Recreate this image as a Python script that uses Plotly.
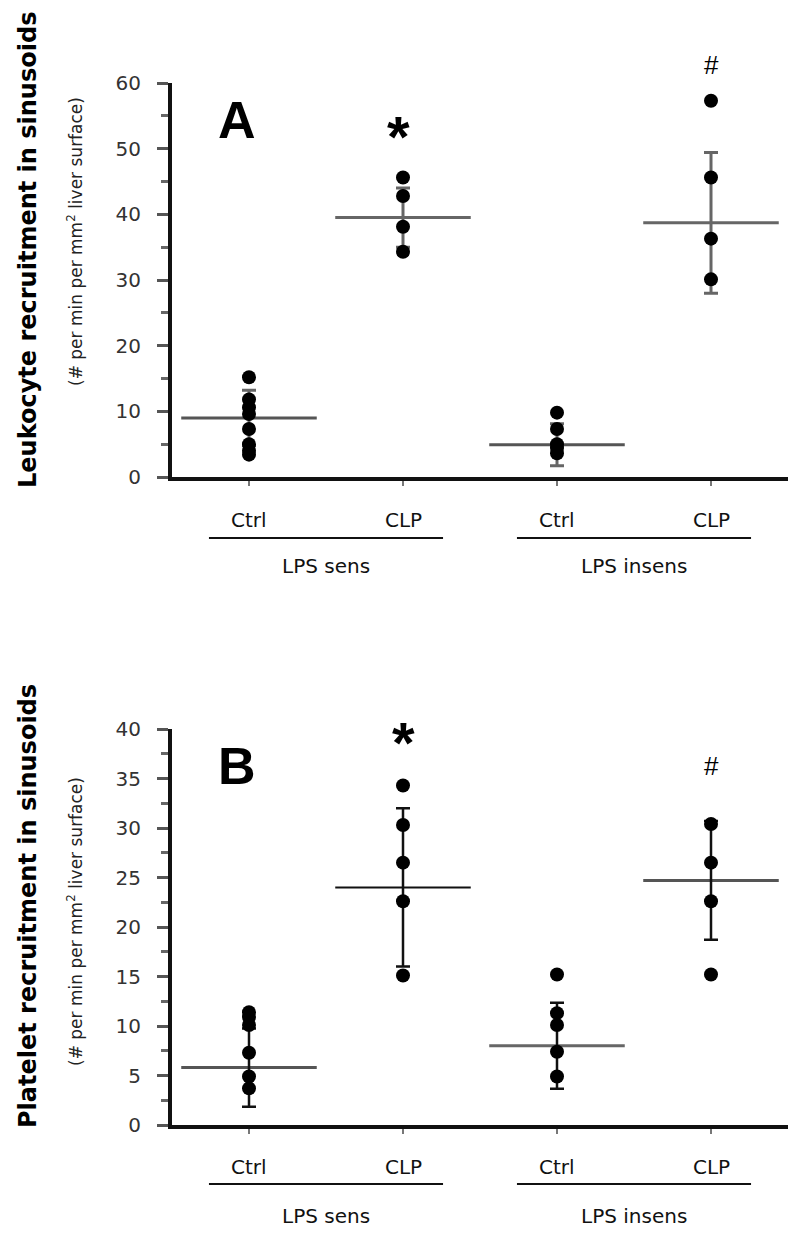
import plotly.graph_objects as go

# page body has an 8px default margin; the figure is sized to fit the 800x1238 window
OX, OY = 8, 8
W, H = 800 - 2 * OX, 1238 - 2 * OY

# ---------------- data ----------------
categories = ["Ctrl", "CLP", "Ctrl", "CLP"]
groups = ["LPS sens", "LPS insens"]

# Panel A: leukocyte recruitment
a_points = [
    [15.2, 11.8, 10.6, 9.6, 7.3, 5.0, 4.0, 3.4],
    [45.6, 42.8, 38.1, 34.3],
    [9.8, 7.3, 5.0, 4.4, 3.6],
    [57.3, 45.6, 36.3, 30.1],
]
a_mean = [9.0, 39.5, 4.9, 38.7]
a_sd = [4.2, 4.5, 3.2, 10.7]

# Panel B: platelet recruitment
b_points = [
    [11.4, 10.9, 10.1, 7.3, 4.9, 3.7],
    [34.3, 30.3, 26.5, 22.6, 15.1],
    [15.2, 11.3, 10.1, 7.4, 4.9],
    [30.4, 26.5, 22.6, 15.2],
]
b_mean = [5.8, 24.0, 8.0, 24.7]
b_sd = [3.95, 8.0, 4.35, 6.0]

a_marks = ["", "*", "", "#"]
a_mark_y = [0, 53.7, 0, 62.8]
b_marks = ["", "*", "", "#"]
b_mark_y = [0, 39.8, 0, 36.3]

a_title = "Leukocyte recruitment in sinusoids"
b_title = "Platelet recruitment in sinusoids"
sub_title = "(# per min per mm<sup>2</sup> liver surface)"

# ---------------- layout helpers ----------------
def py(p):  # window pixel row -> paper y
    return 1 - (p - OY) / H

def pxx(p):  # window pixel col -> paper x
    return (p - OX) / W

FONT = "Liberation Sans, Arial, sans-serif"
DJ = "DejaVu Sans, sans-serif"
fig = go.Figure()

x_dom = [pxx(172), pxx(788)]
ya_dom = [py(477), py(83)]
yb_dom = [py(1125), py(729)]
a_range = [0, 60]
b_range = [0, 40]

panels = [
    dict(pts=a_points, mean=a_mean, sd=a_sd, xa="x", ya="y",
         mean_col=["#555", "#666", "#555", "#666"], mean_w=[3, 3, 3, 3],
         err_col="#666", err_w=3),
    dict(pts=b_points, mean=b_mean, sd=b_sd, xa="x2", ya="y2",
         mean_col=["#555", "#111", "#666", "#555"], mean_w=[3, 2, 3, 3],
         err_col="#111", err_w=2.5),
]

half = 0.44
for p in panels:
    for i in range(4):
        fig.add_trace(go.Scatter(
            x=[i - half, i + half], y=[p["mean"][i], p["mean"][i]],
            mode="lines", line=dict(color=p["mean_col"][i], width=p["mean_w"][i]),
            xaxis=p["xa"], yaxis=p["ya"], showlegend=False, hoverinfo="skip"))
        fig.add_trace(go.Scatter(
            x=[i], y=[p["mean"][i]], mode="markers",
            marker=dict(size=1, color="rgba(0,0,0,0)"),
            error_y=dict(type="data", array=[p["sd"][i]], visible=True,
                         color=p["err_col"], thickness=p["err_w"], width=7),
            xaxis=p["xa"], yaxis=p["ya"], showlegend=False, hoverinfo="skip"))
        fig.add_trace(go.Scatter(
            x=[i] * len(p["pts"][i]), y=p["pts"][i], mode="markers",
            marker=dict(size=14, color="#000"),
            xaxis=p["xa"], yaxis=p["ya"], showlegend=False))

xcommon = dict(range=[-0.5, 3.5], showline=True, linewidth=4, linecolor="#111",
               showgrid=False, zeroline=False, ticks="outside", ticklen=5,
               tickwidth=2, tickcolor="#777", tickvals=[0, 1, 2, 3],
               showticklabels=False, domain=x_dom, fixedrange=True,
               automargin=False)
ycommon = dict(showline=True, linewidth=4, linecolor="#111", showgrid=False,
               zeroline=False, ticks="outside", ticklen=11, tickwidth=3,
               tickcolor="#555", tickfont=dict(family=DJ, size=20, color="#333"),
               ticklabelstandoff=12, fixedrange=True, automargin=False)

fig.update_layout(
    width=W, height=H, margin=dict(l=0, r=0, t=0, b=0),
    paper_bgcolor="white", plot_bgcolor="white", showlegend=False,
    xaxis=dict(**xcommon, anchor="y"),
    yaxis=dict(**ycommon, range=a_range, dtick=10, domain=ya_dom, anchor="x",
               minor=dict(dtick=5, ticks="outside", ticklen=7, tickwidth=3, tickcolor="#666")),
    xaxis2=dict(**xcommon, anchor="y2"),
    yaxis2=dict(**ycommon, range=b_range, dtick=5, domain=yb_dom, anchor="x2",
                minor=dict(dtick=2.5, ticks="outside", ticklen=7, tickwidth=3, tickcolor="#666")),
)

def vpaper(v, dom, rng):
    return dom[0] + (v - rng[0]) / (rng[1] - rng[0]) * (dom[1] - dom[0])

ann = []
shapes = []
for xa, dom, rng, letter, letter_y, marks, mark_y, star_dx, title, tcy, scy, lab_y, line_y, grp_y in [
    ("x", ya_dom, a_range, "A", 54.4, a_marks, a_mark_y, -0.03, a_title, 250, 242, 520, 538, 566),
    ("x2", yb_dom, b_range, "B", 36.3, b_marks, b_mark_y, 0.0, b_title, 906, 922, 1167, 1184, 1216),
]:
    ann.append(dict(x=-0.08, y=vpaper(letter_y, dom, rng), xref=xa, yref="paper",
                    text="<b>" + letter + "</b>", showarrow=False,
                    xanchor="center", yanchor="middle",
                    font=dict(family=FONT, size=52, color="#000")))
    for i in range(4):
        if marks[i] == "*":
            ann.append(dict(x=i + star_dx, y=vpaper(mark_y[i], dom, rng), xref=xa, yref="paper",
                            text="<b>*</b>", showarrow=False, xanchor="center",
                            yanchor="middle", yshift=-12,
                            font=dict(family=FONT, size=58, color="#000")))
        elif marks[i] == "#":
            ann.append(dict(x=i, y=vpaper(mark_y[i], dom, rng), xref=xa, yref="paper",
                            text="#", showarrow=False, xanchor="center", yanchor="middle",
                            font=dict(family=FONT, size=26, color="#000")))
        ann.append(dict(x=i, y=py(lab_y), xref=xa, yref="paper", text=categories[i],
                        showarrow=False, xanchor="center", yanchor="middle",
                        font=dict(family=DJ, size=20, color="#111")))
    for g in range(2):
        c = 2 * g + 0.5
        ann.append(dict(x=c, y=py(grp_y), xref=xa, yref="paper", text=groups[g],
                        showarrow=False, xanchor="center", yanchor="middle",
                        font=dict(family=DJ, size=20, color="#111")))
        shapes.append(dict(type="line", xref=xa, yref="paper",
                           x0=c - 0.76, x1=c + 0.76, y0=py(line_y), y1=py(line_y),
                           line=dict(color="#111", width=2)))
    ann.append(dict(x=pxx(28), y=py(tcy), xref="paper", yref="paper",
                    text="<b>" + title + "</b>", textangle=-90, showarrow=False,
                    xanchor="center", yanchor="middle",
                    font=dict(family=DJ, size=24, color="#000")))
    ann.append(dict(x=pxx(75), y=py(scy), xref="paper", yref="paper", text=sub_title,
                    textangle=-90, showarrow=False, xanchor="center", yanchor="middle",
                    font=dict(family=DJ, size=17, color="#222")))

fig.update_layout(annotations=ann, shapes=shapes)
fig.write_html("out.html")
